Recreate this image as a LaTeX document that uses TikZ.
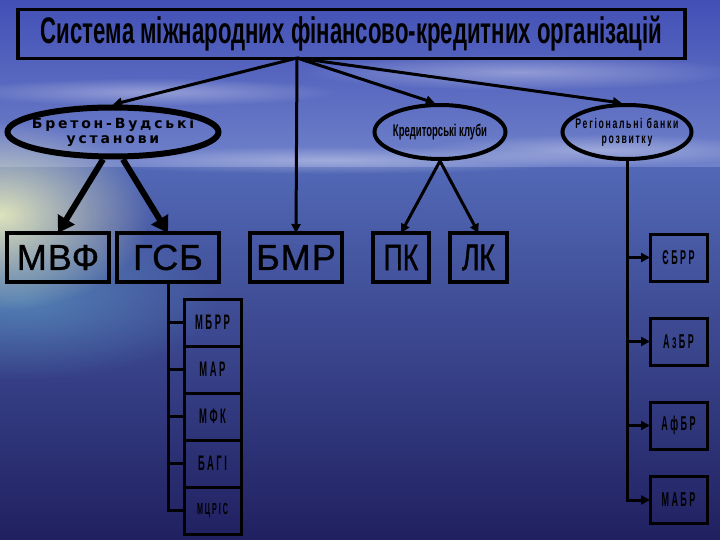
\documentclass[tikz,border=0pt]{standalone}
\usepackage{fontspec}
\setmainfont{Liberation Sans}
\newfontfamily\titlefont[FakeStretch=0.6]{Liberation Sans Bold}
\newfontfamily\spacedfont[LetterSpace=20]{DejaVu Sans Bold}
\newfontfamily\boxfont[LetterSpace=3,FakeBold=1]{Liberation Sans}
\newfontfamily\narrowfont[FakeStretch=0.72,FakeBold=1]{Liberation Sans}
\newfontfamily\condfont[FakeStretch=0.56]{Liberation Sans Bold}
\newfontfamily\regfont[FakeStretch=0.62,LetterSpace=12]{Liberation Sans Bold}
\newfontfamily\condspacedfont[FakeStretch=0.45,LetterSpace=12]{Liberation Sans Bold}
\usetikzlibrary{positioning,arrows.meta,fadings,shapes.geometric}
\tikzfading[name=softedge,inner color=transparent!0,outer color=transparent!100]
\definecolor{skytop}{RGB}{66,80,182}
\definecolor{skylow}{RGB}{112,130,202}
\definecolor{seatop}{RGB}{82,104,182}
\definecolor{seamid}{RGB}{52,68,158}
\definecolor{seabot}{RGB}{32,32,96}
\definecolor{glow}{RGB}{238,242,190}
\definecolor{shallow}{RGB}{95,160,200}
\tikzset{
	orgbox/.style={draw=black,line width=3.5pt,inner sep=0pt,outer sep=0pt,minimum height=49pt},
	subbox/.style={draw=black,line width=3pt,inner sep=0pt,outer sep=0pt,minimum width=57pt,minimum height=47pt,font=\condspacedfont\fontsize{21}{21}\selectfont},
	regbox/.style={subbox,font=\condspacedfont\fontsize{20}{20}\selectfont},
	club/.style={ellipse,draw=black,line width=4pt,inner ysep=0pt,align=center},
	link/.style={line width=3pt,-{Triangle[length=9pt,width=9pt]}},
	biglink/.style={line width=6pt,-{Triangle[length=16pt,width=19pt]}},
	cloud/.style={white,opacity=0.35,path fading=softedge}
}
\begin{document}
\begin{tikzpicture}[x=1pt,y=-1pt]
		\useasboundingbox (0,0) rectangle (720,540);
		\fill[top color=skytop,bottom color=skylow] (0,0) rectangle (720,168);
		\fill[top color=seatop,middle color=seamid,bottom color=seabot] (0,168) rectangle (720,540);
		\fill[cloud] (520,72) ellipse [x radius=220pt,y radius=18pt];
		\fill[cloud] (150,92) ellipse [x radius=190pt,y radius=14pt];
		\fill[cloud] (600,150) ellipse [x radius=180pt,y radius=16pt];
		\fill[cloud] (330,160) ellipse [x radius=260pt,y radius=14pt];
		\fill[shallow,opacity=0.6,path fading=softedge] (20,300) ellipse [x radius=200pt,y radius=80pt];
		\fill[glow,opacity=0.9,path fading=softedge] (0,215) ellipse [x radius=150pt,y radius=95pt];
		\node[orgbox,minimum width=667pt,font=\titlefont\fontsize{37}{37}\selectfont] (title) at (351.5,34) {Система міжнародних фінансово-кредитних організацій};
		\coordinate (hub) at (297,58);
		\node[club,line width=6pt,inner xsep=-18pt,minimum width=211pt,minimum height=49pt,font=\spacedfont\fontsize{14}{15}\selectfont] (bw) at (113,132) {Бретон-Вудські\\установи};
		\node[club,inner xsep=-6pt,minimum width=131pt,minimum height=54pt,font=\condfont\fontsize{17}{17}\selectfont] (kk) at (440,132) {Кредиторські клуби};
		\node[club,inner xsep=-12pt,minimum width=129pt,minimum height=54pt,font=\regfont\fontsize{14}{15}\selectfont] (rb) at (627,132) {Регіональні банки\\розвитку};
		\node[orgbox,minimum width=102pt,font=\boxfont\fontsize{36}{36}\selectfont] (mvf) at (58,257.5) {МВФ};
		\node[orgbox,minimum width=102pt,font=\boxfont\fontsize{36}{36}\selectfont] (gsb) at (168,257.5) {ГСБ};
		\node[orgbox,minimum width=92pt,font=\boxfont\fontsize{36}{36}\selectfont] (bmr) at (296,257.5) {БМР};
		\node[orgbox,minimum width=56pt,font=\narrowfont\fontsize{37}{37}\selectfont] (pk) at (401,257.5) {ПК};
		\node[orgbox,minimum width=57pt,font=\narrowfont\fontsize{37}{37}\selectfont] (lk) at (478.5,257.5) {ЛК};
		\node[subbox] (mbrr) at (212.5,322.5) {МБРР};
		\node[subbox,below=0pt of mbrr] (mar) {МАР};
		\node[subbox,below=0pt of mar] (mfk) {МФК};
		\node[subbox,below=0pt of mfk] (bagi) {БАГІ};
		\node[subbox,below=0pt of bagi,font=\condspacedfont\fontsize{16}{16}\selectfont] (mcris) {МЦРІС};
		\node[regbox] (ebrr) at (678.5,257.5) {ЄБРР};
		\node[regbox] (azbr) at (678.5,341.5) {АзБР};
		\node[regbox] (afbr) at (678.5,425.5) {АфБР};
		\node[regbox] (mabr) at (678.5,500) {МАБР};
		\draw[link] (hub) -- (bw.north);
		\draw[link] (hub) -- (bmr.north);
		\draw[link] (hub) -- (kk.100);
		\draw[link] (hub) -- (rb.100);
		\draw[biglink] (bw.250) -- (mvf.north);
		\draw[biglink] (bw.290) -- (gsb.north);
		\draw[link] (kk.south) -- (pk.north);
		\draw[link] (kk.south) -- (lk.north);
		\draw[line width=3pt] (gsb.south) |- (mcris.west);
		\draw[line width=3pt] (gsb.south |- mbrr.west) -- (mbrr.west);
		\draw[line width=3pt] (gsb.south |- mar.west) -- (mar.west);
		\draw[line width=3pt] (gsb.south |- mfk.west) -- (mfk.west);
		\draw[line width=3pt] (gsb.south |- bagi.west) -- (bagi.west);
		\draw[link] (rb.south) |- (mabr.west);
		\draw[link] (rb.south |- ebrr.west) -- (ebrr.west);
		\draw[link] (rb.south |- azbr.west) -- (azbr.west);
		\draw[link] (rb.south |- afbr.west) -- (afbr.west);
	\end{tikzpicture}
\end{document}
